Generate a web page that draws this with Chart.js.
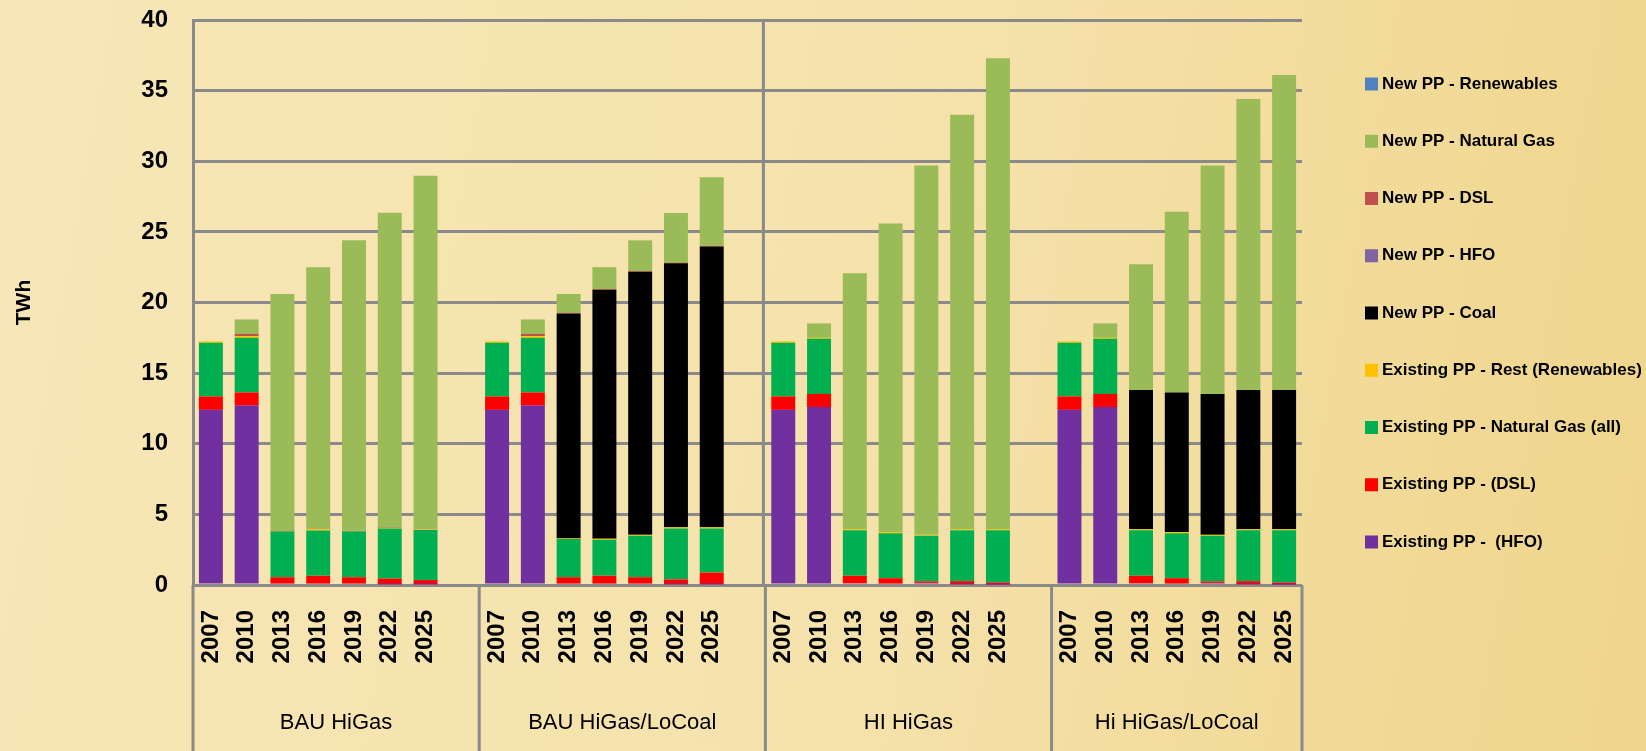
<!DOCTYPE html>
<html>
<head>
<meta charset="utf-8">
<title>Generation by plant type</title>
<script src="https://cdn.jsdelivr.net/npm/chart.js@4.4.1/dist/chart.umd.min.js"></script>
<style>
    html, body { margin: 0; padding: 0; }
    body {
        width: 1646px;
        height: 751px;
        overflow: hidden;
        background: linear-gradient(100deg, #f7e7b7 0%, #f5e2ab 55%, #efd58b 100%);
    }
    #wrap { position: relative; width: 1646px; height: 751px; }
</style>
</head>
<body>
<div id="wrap"><canvas id="genChart"></canvas></div>
<script>
const years = ['2007', '2010', '2013', '2016', '2019', '2022', '2025'];
const scenarios = ['BAU HiGas', 'BAU HiGas/LoCoal', 'HI HiGas', 'Hi HiGas/LoCoal'];

// each scenario's years, then one empty spacer slot (none after the last one)
const categories = [
    ...years, '',
    ...years, '',
    ...years, '',
    ...years
];

const yTicks = [0, 5, 10, 15, 20, 25, 30, 35, 40];

// TWh per plant type, spacer slots are null
const existingHFO  = [12.4, 12.7, 0.1, 0.1, 0.1, 0.05, 0.05, null, 12.4, 12.7, 0.1, 0.1, 0.1, 0.05, 0.05, null, 12.4, 12.6, 0.12, 0.1, 0.15, 0.05, 0.03, null, 12.4, 12.6, 0.12, 0.1, 0.15, 0.05, 0.03];
const existingDSL  = [0.95, 0.93, 0.45, 0.55, 0.45, 0.4, 0.3, null, 0.95, 0.93, 0.45, 0.55, 0.45, 0.35, 0.83, null, 0.95, 0.93, 0.53, 0.38, 0.1, 0.22, 0.15, null, 0.95, 0.93, 0.53, 0.38, 0.1, 0.22, 0.15];
const existingGas  = [3.8, 3.87, 3.25, 3.2, 3.25, 3.55, 3.55, null, 3.8, 3.87, 2.7, 2.55, 2.94, 3.6, 3.12, null, 3.8, 3.9, 3.22, 3.19, 3.24, 3.6, 3.69, null, 3.8, 3.9, 3.22, 3.19, 3.24, 3.6, 3.69];
const existingRest = [0.1, 0.12, 0.03, 0.1, 0.03, 0.03, 0.03, null, 0.1, 0.12, 0.05, 0.08, 0.06, 0.08, 0.08, null, 0.1, 0.07, 0.08, 0.08, 0.06, 0.08, 0.08, null, 0.1, 0.07, 0.08, 0.08, 0.06, 0.08, 0.08];
const newCoal      = [0, 0, 0, 0, 0, 0, 0, null, 0, 0, 15.93, 17.62, 18.62, 18.69, 19.88, null, 0, 0, 0, 0, 0, 0, 0, null, 0, 0, 9.85, 9.88, 9.98, 9.85, 9.85];
const newHFO       = [0, 0, 0, 0, 0, 0, 0, null, 0, 0, 0, 0, 0, 0, 0, null, 0, 0, 0, 0, 0, 0, 0, null, 0, 0, 0, 0, 0, 0, 0];
const newDSL       = [0, 0.15, 0.03, 0.03, 0.02, 0.03, 0.03, null, 0, 0.15, 0.05, 0.05, 0.05, 0.05, 0.05, null, 0, 0, 0, 0, 0, 0, 0, null, 0, 0, 0, 0, 0, 0, 0];
const newGas       = [0, 1.03, 16.74, 18.52, 20.55, 22.29, 25.02, null, 0, 1.03, 1.32, 1.55, 2.18, 3.52, 4.86, null, 0, 1.02, 18.12, 21.85, 26.15, 29.35, 33.35, null, 0, 1.02, 8.9, 12.79, 16.17, 20.6, 22.3];
const newRenew     = [0, 0, 0, 0, 0, 0, 0, null, 0, 0, 0, 0, 0, 0, 0, null, 0, 0, 0, 0, 0, 0, 0, null, 0, 0, 0, 0, 0, 0, 0];

const FONT = '"Liberation Sans", Arial, sans-serif';
const gridColor = '#8a8a8a';

// bottom of the stack first
const series = [
    { label: 'Existing PP -  (HFO)', data: existingHFO, color: '#7030A0' },
    { label: 'Existing PP - (DSL)', data: existingDSL, color: '#FF0000' },
    { label: 'Existing PP - Natural Gas (all)', data: existingGas, color: '#00B050' },
    { label: 'Existing PP - Rest (Renewables)', data: existingRest, color: '#FFC000' },
    { label: 'New PP - Coal', data: newCoal, color: '#000000' },
    { label: 'New PP - HFO', data: newHFO, color: '#8064A2' },
    { label: 'New PP - DSL', data: newDSL, color: '#C0504D' },
    { label: 'New PP - Natural Gas', data: newGas, color: '#9BBB59' },
    { label: 'New PP - Renewables', data: newRenew, color: '#4F81BD' }
];

// Scenario separators, group names and the legend column
const axisDecor = {
    id: 'axisDecor',
    afterDraw(chart) {
        const { ctx, chartArea } = chart;
        const x = chart.scales.x;
        const half = (x.getPixelForValue(1) - x.getPixelForValue(0)) / 2;

        const edges = [x.left];
        categories.forEach((c, i) => {
            if (c === '') edges.push(x.getPixelForValue(i) + half);
        });
        edges.push(x.right);

        ctx.save();
        ctx.strokeStyle = gridColor;
        ctx.lineWidth = 3;
        ctx.beginPath();
        edges.forEach(px => {
            ctx.moveTo(px, chartArea.bottom);
            ctx.lineTo(px, chart.height);
        });
        // the middle divider also runs up through the plot
        ctx.moveTo(edges[2] - 2, chartArea.top);
        ctx.lineTo(edges[2] - 2, chartArea.bottom);
        ctx.stroke();

        ctx.fillStyle = '#000';
        ctx.font = '22px ' + FONT;
        ctx.textAlign = 'center';
        ctx.textBaseline = 'middle';
        scenarios.forEach((name, i) => {
            ctx.fillText(name, (edges[i] + edges[i + 1]) / 2, 723);
        });

        // legend, top item is the last dataset
        ctx.font = 'bold 17px ' + FONT;
        ctx.textAlign = 'left';
        const items = chart.data.datasets.slice().reverse();
        items.forEach((ds, i) => {
            const cy = 84 + i * 57.25;
            ctx.fillStyle = ds.backgroundColor;
            ctx.fillRect(1365, cy - 6.5, 13, 13);
            ctx.fillStyle = '#000';
            ctx.fillText(ds.label, 1382, cy);
        });
        ctx.restore();
    }
};

new Chart(document.getElementById('genChart'), {
    type: 'bar',
    data: {
        labels: categories,
        datasets: series.map(s => ({
            label: s.label,
            data: s.data,
            backgroundColor: s.color,
            borderWidth: 0,
            barPercentage: 0.67,
            categoryPercentage: 1.0
        }))
    },
    options: {
        responsive: true,
        maintainAspectRatio: false,
        animation: false,
        layout: {
            padding: { top: 20, right: 344, bottom: 0, left: 0 }
        },
        plugins: {
            legend: { display: false },
            tooltip: { enabled: false }
        },
        scales: {
            x: {
                stacked: true,
                grid: { display: false, drawTicks: false },
                border: { display: false },
                ticks: {
                    color: '#000',
                    font: { family: FONT, size: 24, weight: 'bold' },
                    minRotation: 90,
                    maxRotation: 90,
                    autoSkip: false,
                    padding: 25
                },
                afterFit(scale) {
                    scale.height = 166;
                    scale.paddingLeft = 0;
                    scale.paddingRight = 0;
                }
            },
            y: {
                stacked: true,
                min: 0,
                max: 40,
                afterBuildTicks(scale) {
                    scale.ticks = yTicks.map(v => ({ value: v }));
                },
                grid: { color: gridColor, lineWidth: 3, drawTicks: false },
                border: { display: true, color: gridColor, width: 3 },
                ticks: {
                    color: '#000',
                    font: { family: FONT, size: 24, weight: 'bold' },
                    padding: 25
                },
                title: {
                    display: true,
                    text: 'TWh',
                    color: '#000',
                    font: { family: FONT, size: 21, weight: 'bold' },
                    padding: { top: 12, bottom: 0 }
                },
                afterFit(scale) {
                    scale.width = 193;
                    scale.paddingTop = 0;
                    scale.paddingBottom = 0;
                }
            }
        }
    },
    plugins: [axisDecor]
});
</script>
</body>
</html>
